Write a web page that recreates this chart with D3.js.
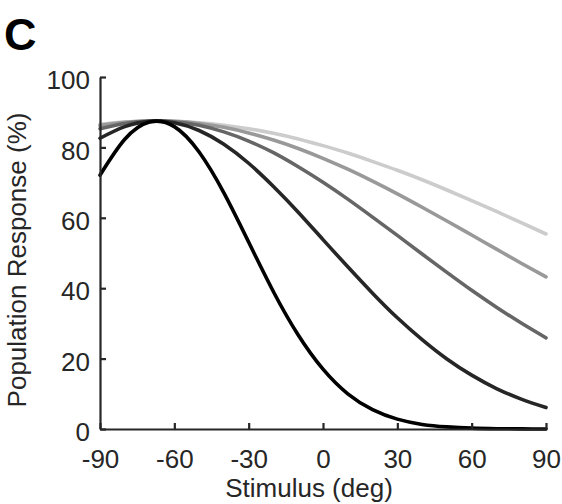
<!DOCTYPE html>
<html>
<head>
<meta charset="utf-8">
<script src="https://cdn.jsdelivr.net/npm/d3@7"></script>
<style>
  body { margin: 0; background: #fff; }
  text { font-family: "Liberation Sans", Arial, sans-serif; fill: #262626; }
</style>
</head>
<body>
<svg id="chart" width="562" height="504"></svg>
<script>
// stimulus positions (deg)
const stimulus = [-90, -80, -70, -60, -50, -40, -30, -20, -10, 0, 10, 20, 30, 40, 50, 60, 70, 80, 90]

// population responses (%), narrowest tuning first
const respBlack = [72.1, 82.3, 87.2, 85.9, 78.7, 67.1, 53.1, 39.0, 26.7, 17.0, 10.0, 5.5, 2.8, 1.3, 0.6, 0.24, 0.09, 0.03, 0.01]
const respDark = [82.6, 85.9, 87.4, 87.0, 84.8, 80.9, 75.5, 68.9, 61.6, 53.8, 46.1, 38.6, 31.6, 25.4, 19.9, 15.3, 11.5, 8.5, 6.1]
const respMid = [85.3, 86.8, 87.5, 87.3, 86.3, 84.4, 81.8, 78.5, 74.5, 70.1, 65.3, 60.2, 55.0, 49.7, 44.5, 39.4, 34.6, 30.1, 25.9]
const respLight = [86.2, 87.1, 87.5, 87.4, 86.8, 85.7, 84.1, 82.1, 79.7, 76.9, 73.8, 70.4, 66.8, 63.0, 59.1, 55.1, 51.1, 47.1, 43.2]
const respLightest = [86.6, 87.2, 87.5, 87.4, 87.0, 86.3, 85.3, 84.0, 82.4, 80.5, 78.4, 76.0, 73.5, 70.8, 67.9, 64.9, 61.8, 58.6, 55.4]

const xTicks = [-90, -60, -30, 0, 30, 60, 90]
const yTicks = [0, 20, 40, 60, 80, 100]

// drawn light to dark so the black curve sits on top
const series = [
  { values: respLightest, color: '#cccccc' },
  { values: respLight, color: '#999999' },
  { values: respMid, color: '#666666' },
  { values: respDark, color: '#262626' },
  { values: respBlack, color: '#000000' },
]

const FONT = 26

const svg = d3.select('#chart')
const x = d3.scaleLinear().domain([-90, 90]).range([100, 546])
const y = d3.scaleLinear().domain([0, 100]).range([429, 77])

const line = d3.line()
  .x((d, i) => x(stimulus[i]))
  .y((d) => y(d))
  .curve(d3.curveNatural)

series.forEach((s) => {
  svg.append('path')
    .attr('d', line(s.values))
    .attr('fill', 'none')
    .attr('stroke', s.color)
    .attr('stroke-width', 3.6)
    .attr('stroke-linecap', 'round')
})

// axes, ticks pointing inwards like matlab, plain hyphen for minus
const fmt = (d) => String(d)
const xAxis = svg.append('g')
  .attr('transform', `translate(0,${y(0)})`)
  .call(d3.axisBottom(x).tickValues(xTicks).tickFormat(fmt).tickSizeInner(-6).tickSizeOuter(0))
const yAxis = svg.append('g')
  .attr('transform', `translate(${x(-90)},0)`)
  .call(d3.axisLeft(y).tickValues(yTicks).tickFormat(fmt).tickSizeInner(-6).tickSizeOuter(0).tickPadding(10))

;[xAxis, yAxis].forEach((g) => {
  g.select('.domain').attr('stroke', '#262626').attr('stroke-width', 2.2)
  g.selectAll('.tick line').attr('stroke', '#262626').attr('stroke-width', 2.2)
  g.selectAll('.tick text')
    .attr('font-size', FONT)
    .style('font-family', '"Liberation Sans", Arial, sans-serif')
    .attr('fill', '#262626')
})
xAxis.selectAll('.tick text').attr('y', 39).attr('dy', 0)
yAxis.selectAll('.tick text').attr('dy', '0.45em')

svg.append('text')
  .attr('x', 309)
  .attr('y', 497)
  .attr('text-anchor', 'middle')
  .attr('font-size', FONT)
  .text('Stimulus (deg)')

svg.append('text')
  .attr('transform', 'translate(26,260) rotate(-90)')
  .attr('text-anchor', 'middle')
  .attr('font-size', FONT)
  .text('Population Response (%)')

svg.append('text')
  .attr('x', 4)
  .attr('y', 50)
  .attr('font-size', 45)
  .attr('font-weight', 'bold')
  .style('fill', '#000')
  .text('C')
</script>
</body>
</html>
